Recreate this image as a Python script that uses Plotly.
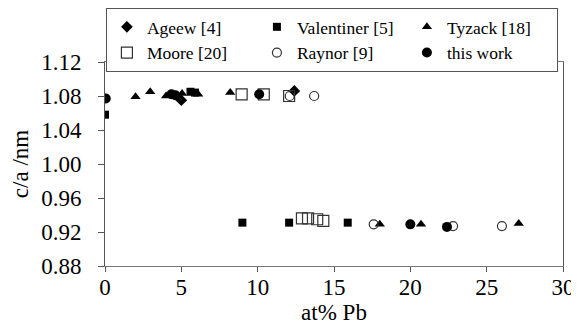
import plotly.graph_objects as go

# Data (at% Pb, c/a)
ageew_x = [5.0, 12.4]
ageew_y = [1.075, 1.086]

valentiner_x = [0.0, 5.6, 5.9, 9.0, 12.06, 15.9]
valentiner_y = [1.058, 1.085, 1.084, 0.931, 0.931, 0.931]

tyzack_x = [2.0, 2.96, 4.0, 5.05, 6.1, 8.2, 12.4, 18.0, 20.7, 27.1]
tyzack_y = [1.079, 1.085, 1.080, 1.083, 1.082, 1.084, 1.087, 0.929, 0.929, 0.930]

moore_x = [8.95, 10.4, 12.06, 12.9, 13.3, 13.9, 14.3]
moore_y = [1.082, 1.082, 1.080, 0.936, 0.936, 0.935, 0.933]

raynor_x = [12.1, 13.7, 17.6, 22.8, 26.0]
raynor_y = [1.080, 1.080, 0.929, 0.927, 0.927]

thiswork_x = [0.05, 4.35, 4.6, 10.1, 20.0, 22.4]
thiswork_y = [1.077, 1.082, 1.081, 1.082, 0.929, 0.926]

x_ticks = [0, 5, 10, 15, 20, 25, 30]
y_ticks = [0.88, 0.92, 0.96, 1.00, 1.04, 1.08, 1.12]

FONT = "Liberation Serif"

series = [
    ("Ageew [4]", ageew_x, ageew_y, "diamond", 9, "black", 0),
    ("Valentiner [5]", valentiner_x, valentiner_y, "square", 8, "black", 0),
    ("Tyzack [18]", tyzack_x, tyzack_y, "triangle-up", 9, "black", 0),
    ("Moore [20]", moore_x, moore_y, "square-open", 11, "#333333", 1.2),
    ("Raynor [9]", raynor_x, raynor_y, "circle-open", 9, "#333333", 1.2),
    ("this work", thiswork_x, thiswork_y, "circle", 10, "black", 0),
]

fig = go.Figure()
for name, xs, ys, sym, size, col, lw in series:
    fig.add_trace(go.Scatter(
        x=xs, y=ys, mode="markers", name=name,
        marker=dict(symbol=sym, size=size, color=col,
                    line=dict(width=lw, color=col)),
    ))

# page body has an 8px margin, so the figure is sized to fill the rest of the window
fig.update_layout(
    width=571, height=322,
    margin=dict(l=97, r=16, t=54, b=64, autoexpand=False),
    paper_bgcolor="white", plot_bgcolor="white",
    font=dict(family=FONT, color="black", size=21),
    showlegend=True,
    legend=dict(
        orientation="h", x=0.002, xanchor="left", y=1.265, yanchor="top",
        entrywidth=105, entrywidthmode="pixels",
        bordercolor="#555555", borderwidth=1,
        font=dict(family=FONT, size=17.5, color="black"),
        tracegroupgap=0, itemwidth=30,
    ),
    xaxis=dict(
        range=[0, 30], tickvals=x_ticks, ticktext=[str(v) for v in x_ticks],
        showgrid=False, zeroline=False,
        showline=True, linecolor="#777777", linewidth=1, mirror=True,
        ticks="outside", ticklen=5, tickcolor="#555555",
        tickfont=dict(family=FONT, size=23), ticklabelstandoff=-5,
        title=dict(text="at% Pb", font=dict(family=FONT, size=23), standoff=0),
    ),
    yaxis=dict(
        range=[0.88, 1.12], tickvals=y_ticks, ticktext=[f"{v:.2f}" for v in y_ticks],
        showgrid=False, zeroline=False,
        showline=True, linecolor="#555555", linewidth=1, mirror=True,
        ticks="outside", ticklen=6, tickcolor="#555555",
        tickfont=dict(family=FONT, size=23), ticklabelstandoff=12,
        title=dict(text="c/a /nm", font=dict(family=FONT, size=23), standoff=10),
    ),
)

fig.write_html("out.html")
